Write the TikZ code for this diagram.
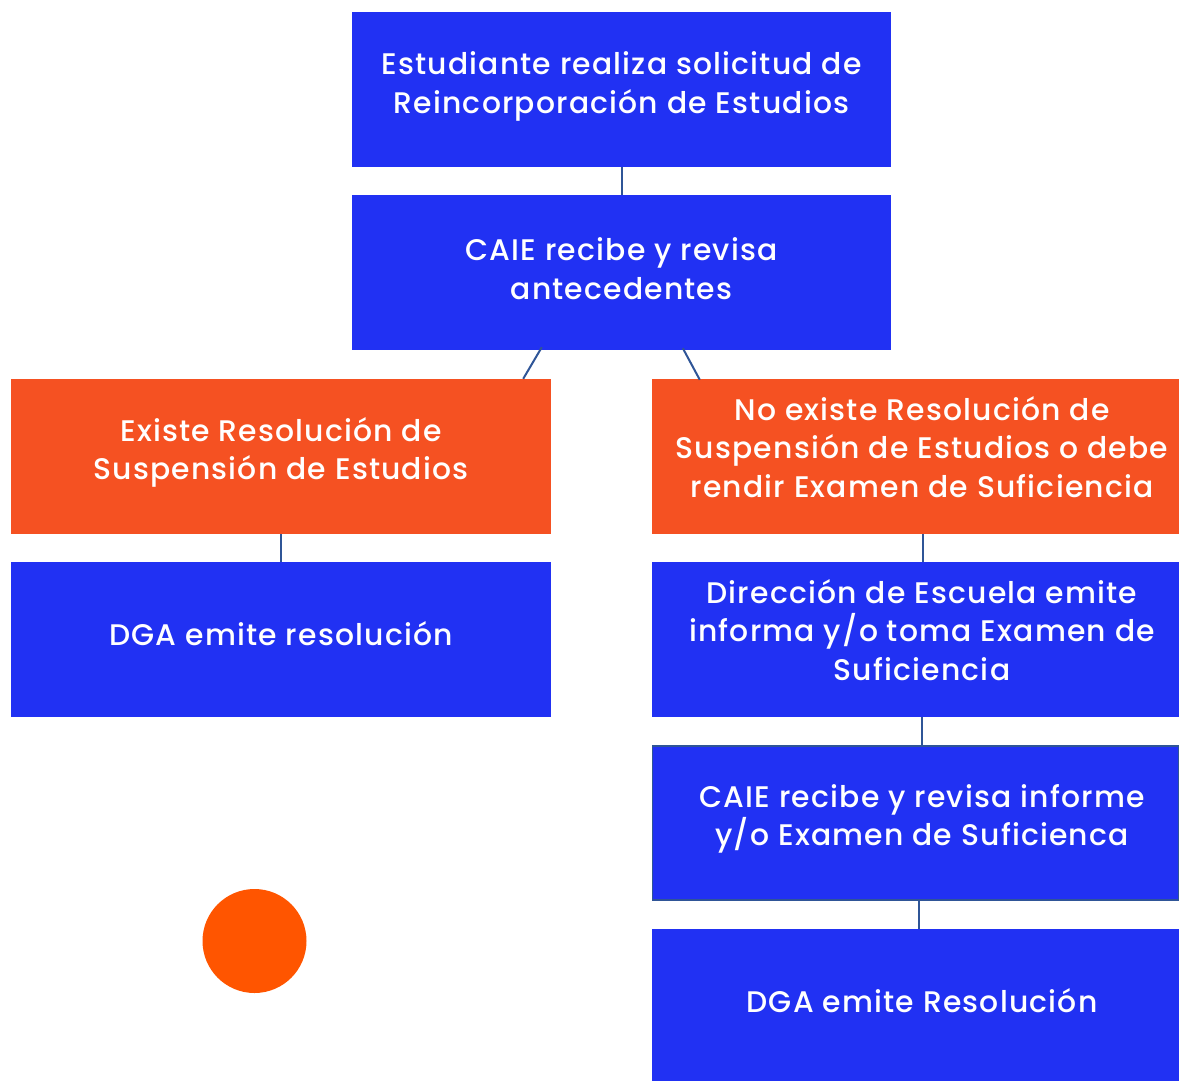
\documentclass[tikz,border=0pt]{standalone}
\usepackage{fontspec}
\setmainfont{Poppins Medium}[LetterSpace=4]
\usetikzlibrary{calc}
\definecolor{bblue}{HTML}{2131F3}
\definecolor{borange}{HTML}{F55122}
\definecolor{corange}{HTML}{FF5500}
\definecolor{lnk}{HTML}{2F5597}
\begin{document}
\begin{tikzpicture}[x=1pt,y=-1pt,
  box/.style={fill=#1,draw=none,inner sep=0pt},
  txt/.style={text=white,align=center,inner sep=0pt,font=\fontsize{29.8}{38.6}\selectfont},
  link/.style={draw=lnk,line width=2pt}]
\useasboundingbox (0,0) rectangle (1180,1081);
% boxes
\node[box=bblue,minimum width=539pt,minimum height=155pt] (b1) at (621.5,89.5) {};
\node[txt] (t1) at (621.5,86.5) {Estudiante realiza solicitud de\\Reincorporación de Estudios};
\node[box=bblue,minimum width=539pt,minimum height=155pt] (b2) at (621.5,272.5) {};
\node[txt] (t2) at (621.5,268.5) {CAIE recibe y revisa\\antecedentes};
\node[box=borange,minimum width=540pt,minimum height=155pt] (b3) at (281,456.5) {};
\node[txt] (t3) at (281,452.5) {Existe Resolución de\\Suspensión de Estudios};
\node[box=borange,minimum width=527pt,minimum height=155pt] (b4) at (915.5,456.5) {};
\node[txt] (t4) at (922,447) {No existe Resolución de\\Suspensión de Estudios o debe\\rendir Examen de Suficiencia};
\node[box=bblue,minimum width=540pt,minimum height=155pt] (b5) at (281,639.5) {};
\node[txt] (t5) at (281,634) {DGA emite resolución};
\node[box=bblue,minimum width=527pt,minimum height=155pt] (b6) at (915.5,639.5) {};
\node[txt] (t6) at (922,630) {Dirección de Escuela emite\\informa y/o toma Examen de\\Suficiencia};
\node[box=bblue,draw=lnk,line width=1.5pt,minimum width=526pt,minimum height=154pt] (b7) at (915.5,823) {};
\node[txt] (t7) at (922,819) {CAIE recibe y revisa informe\\y/o Examen de Suficienca};
\node[box=bblue,minimum width=527pt,minimum height=152pt] (b8) at (915.5,1005) {};
\node[txt] (t8) at (922,1001) {DGA emite Resolución};
\node[circle,fill=corange,minimum size=104pt,inner sep=0pt] (c1) at (254.5,941) {};
% links
\draw[link] (b1.south) -- (b2.north);
\draw[link] ($(b2.south west)+(190,-3)$) -- ($(b3.north east)+(-28,0)$);
\draw[link] ($(b2.south west)+(331,-2)$) -- ($(b4.north west)+(48,1)$);
\draw[link] (b3.south) -- (b5.north);
\draw[link] ($(b4.south)+(7.5,0)$) -- ($(b6.north)+(7.5,0)$);
\draw[link] ($(b6.south)+(6.5,0)$) -- ($(b7.north)+(6.5,0)$);
\draw[link] ($(b7.south)+(3.5,0)$) -- ($(b8.north)+(3.5,0)$);
\end{tikzpicture}
\end{document}
